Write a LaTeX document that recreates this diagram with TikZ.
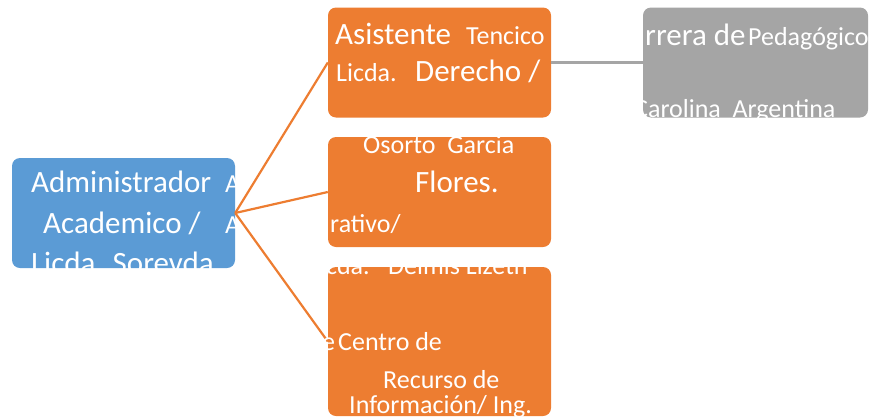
\documentclass[tikz,border=0pt]{standalone}
\usepackage{fontspec}
\setmainfont{Carlito}
\definecolor{accblue}{HTML}{5B9BD5}
\definecolor{accorange}{HTML}{ED7D31}
\definecolor{accgray}{HTML}{A5A5A5}
\begin{document}
\begin{tikzpicture}[x=1pt,y=-1pt,
  box/.style={rounded corners=8pt, inner sep=0pt, minimum width=223pt, minimum height=110pt},
  conn/.style={draw=accorange, line width=2.2pt},
  grayconn/.style={draw=accgray, line width=2.2pt},
  tbig/.style={text=white, inner sep=0pt, anchor=base west, font=\fontsize{31}{37}\selectfont},
  tmid/.style={text=white, inner sep=0pt, anchor=base west, font=\fontsize{26}{31}\selectfont}]
\useasboundingbox (0,0) rectangle (870,418);
% boxes
\node[box, fill=accblue] (adm) at (123.5,213) {};
\node[box, fill=accorange] (o1) at (439.5,62.5) {};
\node[box, fill=accorange] (o2) at (439.5,192) {};
\node[box, fill=accorange, minimum height=149pt] (o3) at (439.5,341.5) {};
\node[box, fill=accgray, minimum width=225pt] (g1) at (755.5,62.5) {};
% connectors
\draw[conn] (adm.east) -- (o1.west);
\draw[conn] (adm.east) -- (o2.west);
\draw[conn] (adm.east) -- (o3.west);
\draw[grayconn] (o1.east) -- (g1.west);
% texts (white)
\node[tbig] (a1) at (31,192) {Administrador};
\node[tmid] (a2) at (225,192) {A};
\node[tbig] (a3) at (43,233) {Academico /};
\node[tmid] (a4) at (225,233) {A};
\node[tbig] (a5) at (31,273) {Licda. Sorevda};
\node[tbig] (b1) at (335,44) {Asistente};
\node[tmid] (b2) at (466,44) {Tencico};
\node[tmid] (b3) at (336,81) {Licda.};
\node[tbig] (b4) at (415,81) {Derecho /};
\node[tbig] (c1) at (645,45) {rrera de};
\node[tmid] (c2) at (748,45) {Pedagógico};
\node[tmid] (c3) at (634,117) {Carolina\ \ Argentina};
\node[tmid] (d1) at (363,153) {Osorto\ \ Garcia};
\node[tbig] (d2) at (415,192) {Flores.};
\node[tmid] (d3) at (330,232) {rativo/};
\node[tmid] (e1) at (309,274) {Licda.};
\node[tmid] (e2) at (388,274) {Delmis Lizeth};
\node[tmid] (e3) at (322,350) {e};
\node[tmid] (e4) at (338,350) {Centro de};
\node[tmid] (e5) at (383,388) {Recurso de};
\node[tmid] (e6) at (349,413) {Información/ Ing.};
\end{tikzpicture}
\end{document}
